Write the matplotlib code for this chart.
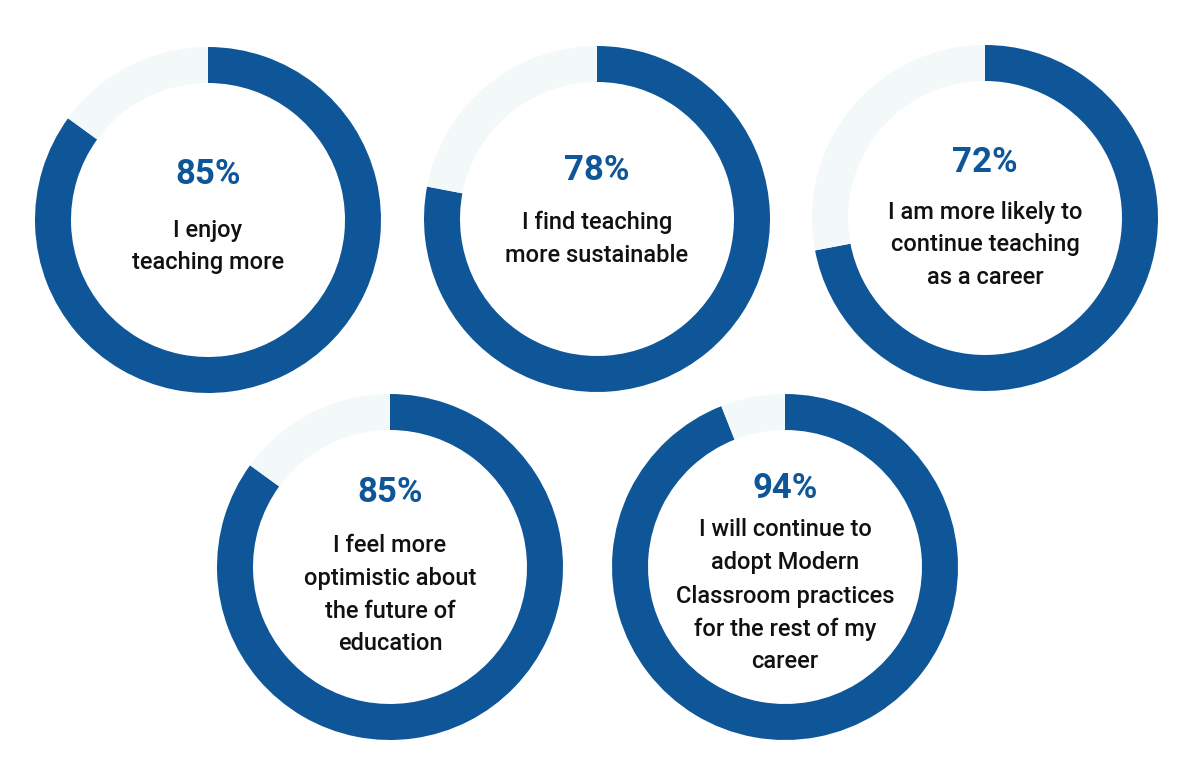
import matplotlib
matplotlib.use("Agg")
import matplotlib.pyplot as plt

# data
values = [85, 78, 72, 85, 94]
labels = [
    ["I enjoy", "teaching more"],
    ["I find teaching", "more sustainable"],
    ["I am more likely to", "continue teaching", "as a career"],
    ["I feel more", "optimistic about", "the future of", "education"],
    ["I will continue to", "adopt Modern", "Classroom practices",
     "for the rest of my", "career"],
]

# layout (pixels, origin top-left)
centers = [(208, 220), (597, 219), (985, 218), (390, 567), (785, 567)]
pct_y = [175, 170, 162, 493, 488]
line1_y = [230, 222, 212, 545, 530]
step = 33
R = 173
ring = 36
blue = "#0E5698"
track = "#F3F8F9"

plt.rcParams["font.family"] = ["Roboto", "DejaVu Sans"]

fig = plt.figure(figsize=(12, 7.6), dpi=100)
ax = fig.add_axes([0, 0, 1, 1])

for i, (v, lab, (cx, cy)) in enumerate(zip(values, labels, centers)):
    ax.pie([v, 100 - v], colors=[blue, track], startangle=90, counterclock=False,
           radius=R, center=(cx, 760 - cy),
           wedgeprops=dict(width=ring, linewidth=0))
    ax.text(cx, 760 - pct_y[i], f"{v}%", ha="center", va="center", color=blue,
            fontsize=25, fontweight="bold")
    for k, line in enumerate(lab):
        ax.text(cx, 760 - (line1_y[i] + k * step), line, ha="center",
                va="center", color="#111111", fontsize=17, fontweight="medium")

ax.set_xlim(0, 1200)
ax.set_ylim(0, 760)
ax.set_aspect("equal")
ax.axis("off")

fig.savefig("out.png", dpi=100, facecolor="white")
